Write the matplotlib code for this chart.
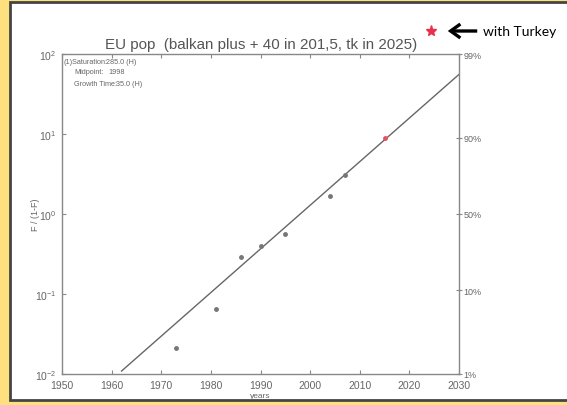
import numpy as np
import matplotlib
matplotlib.use("Agg")
import matplotlib.pyplot as plt
from matplotlib.patches import Rectangle, FancyArrowPatch

# ---- data ----
years = [1973, 1981, 1986, 1990, 1995, 2004, 2007]
ratio = [0.021, 0.065, 0.29, 0.40, 0.56, 1.69, 3.1]
years_new = [2015]
ratio_new = [8.8]
turkey_year = [2024.3]
turkey_ratio = [194]

saturation = 285.0
midpoint = 1998
growth_time = 35.0
fit_years = [1962, 2030]

right_vals = [99.0, 9.0, 1.0, 1 / 9, 1 / 99]
right_labels = ["99%", "90%", "50%", "10%", "1%"]
x_ticks = [1950, 1960, 1970, 1980, 1990, 2000, 2010, 2020, 2030]
y_ticks = [1e-2, 1e-1, 1e0, 1e1, 1e2]

W, H = 567, 406
plt.rcParams["font.family"] = ["Liberation Sans", "DejaVu Sans"]
fig = plt.figure(figsize=(W / 100, H / 100), dpi=100)
fig.patch.set_facecolor("#FFE07F")

def fx(px):
    return px / W

def fy(py):
    return 1 - py / H

# white panel with dark border
panel = Rectangle((fx(10), fy(401)), 600 / W, 398 / H,
                  transform=fig.transFigure, facecolor="white",
                  edgecolor="#444444", linewidth=2, zorder=-5)
fig.patches.append(panel)

ax = fig.add_axes([fx(62), fy(375), 397 / W, 320 / H])
ax.set_zorder(2)
ax.patch.set_alpha(0)
ax.set_yscale("log")
ax.set_xlim(1950, 2030)
ax.set_ylim(1e-2, 1e2)

gray = "#888888"
tcol = "#666666"
for s in ax.spines.values():
    s.set_color(gray)
    s.set_linewidth(1.0)

# fitted logistic line (Fisher-Pry form)
k = np.log(81) / growth_time
fyrs = np.array(fit_years, dtype=float)
ax.plot(fyrs, np.exp(k * (fyrs - midpoint)), color="#666666", lw=1.0)

ax.plot(years, ratio, "o", color="#777777", ms=2.5, mec="#777777")
ax.plot(years_new, ratio_new, "o", color="#e8505e", ms=2.5, mec="#e8505e")
ax.plot(turkey_year, turkey_ratio, "*", color="#e83048", ms=8, clip_on=False)

ax.set_xticks(x_ticks)
ax.set_yticks(y_ticks)
ax.minorticks_off()
ax.tick_params(axis="both", direction="in", length=3, color=gray,
               labelcolor=tcol, labelsize=7.5, top=True, right=False)
ax.tick_params(axis="x", pad=4)
ax.tick_params(axis="y", pad=4)
ax.set_xlabel("years", fontsize=6, color=tcol, va="center")
ax.xaxis.set_label_coords(0.5, -0.067)
ax.set_ylabel("F / (1-F)", fontsize=6.5, color=tcol, va="center")
ax.yaxis.set_label_coords(-0.068, 0.5)

ax2 = ax.twinx()
ax2.set_zorder(3)
ax2.patch.set_alpha(0)
ax2.set_yscale("log")
ax2.set_ylim(1e-2, 1e2)
ax2.set_yticks(right_vals)
ax2.set_yticklabels(right_labels)
ax2.minorticks_off()
ax2.tick_params(axis="y", direction="inout", length=4, color=gray,
                labelcolor=tcol, labelsize=6.5, pad=1)
for s in ax2.spines.values():
    s.set_visible(False)

fig.text(fx(261), fy(45), "EU pop  (balkan plus + 40 in 201,5, tk in 2025)",
         ha="center", va="center", fontsize=10.9, color="#555555")

# fit parameter box
fs = 5.2
kw = dict(fontsize=fs, color=tcol, va="center")
fig.text(fx(64), fy(62), "(1)Saturation:", **kw)
fig.text(fx(106), fy(62), f"{saturation:.1f} (H)", **kw)
fig.text(fx(74), fy(73), "Midpoint:", **kw)
fig.text(fx(108), fy(73), f"{midpoint}", **kw)
fig.text(fx(74), fy(84), "Growth Time:", **kw)
fig.text(fx(116), fy(84), f"{growth_time:.1f} (H)", **kw)

# arrow annotation
fig.patches.append(FancyArrowPatch(
    (fx(480), fy(32)), (fx(445), fy(32)), transform=fig.transFigure,
    arrowstyle="->,head_length=7,head_width=5", color="black", lw=2.4,
    mutation_scale=1, capstyle="butt", joinstyle="miter"))
fig.text(fx(483), fy(32), "with Turkey", fontsize=10, color="black",
         va="center", ha="left", family=["Lato", "DejaVu Sans"])

fig.savefig("out.png", dpi=100, facecolor=fig.get_facecolor())
